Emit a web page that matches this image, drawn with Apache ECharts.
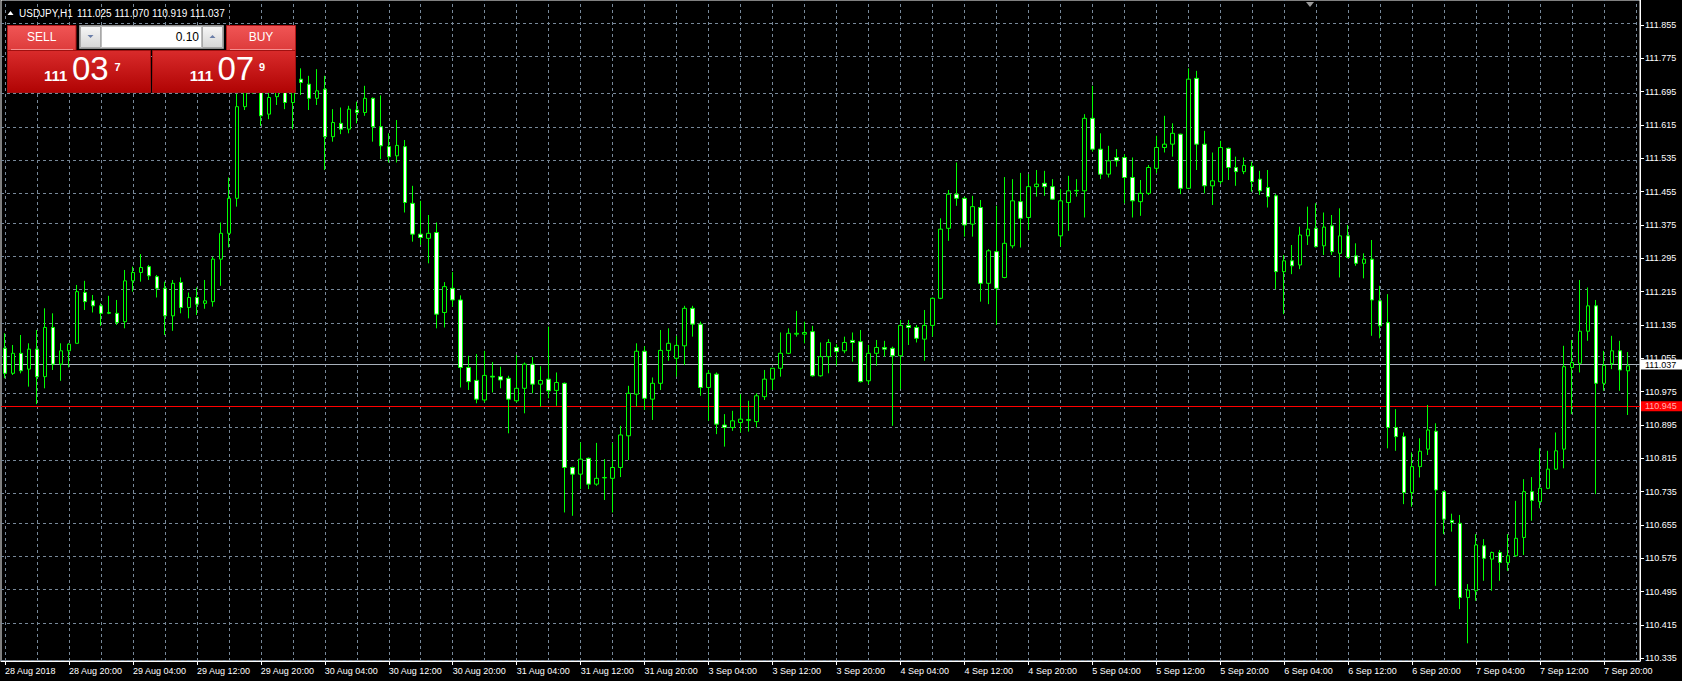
<!DOCTYPE html>
<html><head><meta charset="utf-8">
<script src="https://cdn.jsdelivr.net/npm/echarts@6/dist/echarts.min.js"></script>
<style>html,body{margin:0;padding:0;background:#000;overflow:hidden}#c{width:1682px;height:681px}</style>
</head><body><div id="c"></div><script>
// ---------- DATA ----------
const symbolTitle = 'USDJPY,H1';
const titleValues = '111.025 111.070 110.919 111.037';
const xTickLabels = ['28 Aug 2018','28 Aug 20:00','29 Aug 04:00','29 Aug 12:00','29 Aug 20:00','30 Aug 04:00','30 Aug 12:00','30 Aug 20:00','31 Aug 04:00','31 Aug 12:00','31 Aug 20:00','3 Sep 04:00','3 Sep 12:00','3 Sep 20:00','4 Sep 04:00','4 Sep 12:00','4 Sep 20:00','5 Sep 04:00','5 Sep 12:00','5 Sep 20:00','6 Sep 04:00','6 Sep 12:00','6 Sep 20:00','7 Sep 04:00','7 Sep 12:00','7 Sep 20:00'];
const yTicks = [110.335,110.415,110.495,110.575,110.655,110.735,110.815,110.895,110.975,111.055,111.135,111.215,111.295,111.375,111.455,111.535,111.615,111.695,111.775,111.855];
const bidPrice = 111.037;
const redLevel = 110.945;
const sellPrice = ['111','03','7'];
const buyPrice = ['111','07','9'];
const lotSize = '0.10';

const opens = [
111.079,111.019,111.067,111.029,111.077,111.011,111.129,111.041,111.073,111.091,
111.213,111.193,111.181,111.163,111.163,111.143,111.241,111.261,111.275,111.251,
111.223,111.157,111.237,111.177,111.201,111.187,111.191,111.293,111.355,111.439,
111.659,111.700,111.710,111.641,111.683,111.700,111.669,111.725,111.713,111.679,
111.701,111.587,111.619,111.605,111.651,111.645,111.679,111.611,111.563,111.541,
111.563,111.427,111.353,111.343,111.357,111.165,111.223,111.195,111.033,111.002,
110.955,111.012,111.011,111.007,110.953,110.983,111.041,110.993,111.005,110.978,
110.995,110.793,110.777,110.815,110.753,110.768,110.767,110.793,110.869,110.969,
111.072,110.957,110.995,111.074,111.055,111.085,111.175,111.137,110.985,111.017,
110.895,110.889,110.901,110.906,110.903,110.963,111.005,111.031,111.067,111.113,
111.113,111.119,111.013,111.059,111.081,111.073,111.098,111.095,111.001,111.067,
111.081,111.079,111.061,111.134,111.129,111.101,111.134,111.199,111.367,111.449,
111.439,111.377,111.417,111.235,111.311,111.249,111.325,111.431,111.393,111.467,
111.475,111.467,111.349,111.429,111.457,111.457,111.631,111.557,111.497,111.537,
111.537,111.489,111.431,111.451,111.511,111.561,111.569,111.593,111.463,111.727,
111.569,111.469,111.479,111.559,111.513,111.503,111.516,111.485,111.465,111.445,
111.263,111.289,111.279,111.349,111.367,111.325,111.373,111.307,111.349,111.301,
111.283,111.293,111.193,111.141,110.889,110.867,110.733,110.795,110.837,110.880,
110.735,110.666,110.659,110.481,110.497,110.605,110.573,110.589,110.565,110.581,
110.625,110.735,110.711,110.743,110.789,110.837,111.033,111.043,111.120,111.181,
110.995,111.042,111.073,111.025];
const highs = [
111.115,111.087,111.111,111.091,111.123,111.175,111.163,111.091,111.091,111.231,
111.241,111.207,111.187,111.205,111.195,111.267,111.275,111.305,111.279,111.255,
111.239,111.243,111.249,111.213,111.225,111.243,111.299,111.381,111.489,111.690,
111.730,111.740,111.730,111.700,111.720,111.720,111.720,111.751,111.733,111.749,
111.733,111.653,111.657,111.661,111.671,111.709,111.681,111.686,111.595,111.627,
111.579,111.469,111.433,111.399,111.381,111.238,111.262,111.206,111.061,111.065,
111.073,111.046,111.035,111.013,111.063,111.045,111.058,111.036,111.131,111.021,
110.997,110.795,110.853,110.817,110.852,110.813,110.852,110.893,110.989,111.091,
111.084,111.009,111.123,111.127,111.109,111.181,111.181,111.143,111.027,111.021,
110.921,110.929,110.969,110.953,110.971,111.027,111.031,111.117,111.127,111.169,
111.143,111.133,111.093,111.101,111.089,111.107,111.117,111.123,111.087,111.099,
111.097,111.083,111.147,111.147,111.135,111.171,111.201,111.391,111.459,111.525,
111.443,111.445,111.435,111.317,111.421,111.490,111.485,111.500,111.497,111.507,
111.505,111.485,111.461,111.493,111.485,111.641,111.709,111.595,111.565,111.557,
111.545,111.537,111.483,111.519,111.589,111.637,111.619,111.594,111.751,111.745,
111.601,111.549,111.577,111.561,111.539,111.537,111.527,111.505,111.507,111.449,
111.303,111.327,111.371,111.419,111.427,111.405,111.399,111.415,111.375,111.331,
111.307,111.339,111.229,111.209,110.933,110.877,110.829,110.863,110.943,110.899,
110.737,110.682,110.679,110.513,110.633,110.621,110.591,110.595,110.633,110.713,
110.765,110.770,110.839,110.833,110.877,111.085,111.099,111.243,111.225,111.195,
111.073,111.109,111.097,111.070];
const lows = [
111.007,111.015,111.019,110.987,110.945,110.983,111.027,111.001,111.033,111.091,
111.171,111.165,111.133,111.161,111.135,111.127,111.215,111.239,111.243,111.201,
111.111,111.121,111.163,111.151,111.159,111.174,111.179,111.229,111.321,111.419,
111.651,111.690,111.613,111.629,111.663,111.653,111.605,111.687,111.651,111.663,
111.507,111.575,111.593,111.595,111.619,111.637,111.575,111.533,111.525,111.525,
111.405,111.335,111.327,111.283,111.127,111.129,111.179,110.985,110.979,110.947,
110.949,110.973,110.983,110.875,110.949,110.923,110.971,110.939,110.959,110.941,
110.685,110.677,110.741,110.741,110.749,110.715,110.685,110.770,110.811,110.939,
110.931,110.907,110.979,111.049,111.011,111.039,111.107,110.965,110.905,110.873,
110.843,110.881,110.877,110.879,110.889,110.955,110.979,111.011,111.065,111.107,
111.091,111.011,111.011,111.019,111.037,111.067,111.047,110.997,110.993,111.037,
111.059,110.893,110.981,111.087,111.093,111.049,111.107,111.197,111.337,111.421,
111.347,111.347,111.191,111.185,111.135,111.247,111.319,111.321,111.363,111.443,
111.445,111.435,111.323,111.361,111.443,111.393,111.551,111.485,111.489,111.515,
111.427,111.393,111.397,111.447,111.499,111.549,111.539,111.449,111.461,111.507,
111.451,111.423,111.473,111.483,111.469,111.497,111.455,111.447,111.417,111.221,
111.161,111.257,111.269,111.327,111.321,111.303,111.303,111.249,111.295,111.277,
111.247,111.109,111.103,110.839,110.833,110.705,110.699,110.769,110.823,110.509,
110.633,110.639,110.453,110.371,110.473,110.521,110.497,110.521,110.545,110.579,
110.583,110.665,110.695,110.741,110.787,110.791,110.921,111.021,111.097,110.729,
110.977,111.029,110.977,110.919];
const closes = [
111.019,111.067,111.025,111.077,111.011,111.129,111.041,111.073,111.089,111.215,
111.191,111.181,111.163,111.165,111.141,111.241,111.261,111.273,111.253,111.223,
111.157,111.235,111.177,111.201,111.185,111.193,111.293,111.355,111.439,111.659,
111.700,111.720,111.637,111.681,111.695,111.669,111.700,111.717,111.679,111.697,
111.587,111.621,111.605,111.653,111.645,111.679,111.611,111.565,111.539,111.566,
111.429,111.353,111.345,111.355,111.161,111.227,111.195,111.033,110.999,110.957,
111.014,111.010,111.003,110.957,110.983,111.041,110.993,111.002,110.977,110.997,
110.793,110.777,110.813,110.753,110.767,110.769,110.793,110.871,110.971,111.072,
110.959,110.995,111.074,111.091,111.086,111.175,111.137,110.985,111.019,110.897,
110.889,110.905,110.909,110.908,110.965,111.005,111.031,111.067,111.115,111.115,
111.117,111.013,111.059,111.093,111.071,111.093,111.093,110.999,111.067,111.081,
111.077,111.061,111.134,111.129,111.103,111.134,111.199,111.365,111.449,111.439,
111.375,111.419,111.235,111.313,111.223,111.331,111.433,111.391,111.467,111.473,
111.467,111.437,111.433,111.457,111.458,111.631,111.557,111.497,111.529,111.529,
111.489,111.433,111.451,111.513,111.561,111.569,111.595,111.463,111.725,111.569,
111.469,111.481,111.561,111.513,111.503,111.518,111.479,111.457,111.443,111.263,
111.289,111.277,111.351,111.365,111.323,111.370,111.311,111.349,111.297,111.283,
111.293,111.195,111.133,110.889,110.867,110.733,110.795,110.832,110.883,110.739,
110.669,110.661,110.481,110.499,110.607,110.575,110.589,110.565,110.581,110.623,
110.735,110.714,110.743,110.789,110.833,111.035,111.045,111.120,111.181,110.995,
111.038,111.073,111.027,111.037];

// ---------- BUILD ----------
const FONT = 'Liberation Sans';
const N = opens.length;
function pad(n){return (n<10?'0':'')+n;}
const categories = [];
let t = Date.UTC(2018, 7, 28, 12);
while (categories.length < N + 1) {
  const d = new Date(t);
  const wd = d.getUTCDay();
  if (wd !== 0 && wd !== 6) categories.push(d.getUTCFullYear()+'.'+pad(d.getUTCMonth()+1)+'.'+pad(d.getUTCDate())+' '+pad(d.getUTCHours())+':00');
  t += 3600000;
}
const candleData = opens.map((o, i) => [o, closes[i], lows[i], highs[i]]);

const gridLineData = [];
for (let i = 0; i < categories.length; i += 4) gridLineData.push({xAxis: i});
yTicks.forEach(v => gridLineData.push({yAxis: v}));
const gridStyle = {color: '#778899', type: [3, 3], width: 1};

const chart = echarts.init(document.getElementById('c'), null, {renderer: 'svg'});
const grad = (a, b) => new echarts.graphic.LinearGradient(0, 0, 0, 1, [{offset: 0, color: a}, {offset: 1, color: b}]);
const G = 100;
const graphic = [
  {type:'polygon', z:G, shape:{points:[[7.5,15],[13.5,15],[10.5,11]]}, style:{fill:'#fff'}},
  {type:'text', z:G, x:19, y:13, style:{text:symbolTitle, fill:'#fff', font:'10px '+FONT, verticalAlign:'middle'}},
  {type:'text', z:G, x:77, y:13, style:{text:titleValues, fill:'#fff', font:'10px '+FONT, verticalAlign:'middle'}},
  {type:'polygon', z:G, shape:{points:[[1306,2],[1314,2],[1310,7]]}, style:{fill:'#9a9a9a'}},
  // SELL
  {type:'rect', z:G, shape:{x:7.5,y:25.5,width:68.5,height:25}, style:{fill:grad('#f05555','#dd3b3b'), stroke:'#b01818', lineWidth:1}},
  {type:'rect', z:G, shape:{x:7.5,y:50.5,width:143,height:42}, style:{fill:grad('#d92b2b','#b00303'), stroke:'#a01010', lineWidth:1}},
  {type:'line', z:G, shape:{x1:11,y1:49.5,x2:73,y2:49.5}, style:{stroke:'#f59090', lineWidth:1}},
  {type:'text', z:G, x:41.7, y:37, style:{text:'SELL', fill:'#fff', font:'12px '+FONT, align:'center', verticalAlign:'middle'}},
  {type:'text', z:G, x:44, y:75.5, style:{text:sellPrice[0], fill:'#fff', font:'bold 15px '+FONT, verticalAlign:'middle'}},
  {type:'text', z:G, x:72, y:68.5, style:{text:sellPrice[1], fill:'#fff', font:'33px '+FONT, verticalAlign:'middle'}},
  {type:'text', z:G, x:114.5, y:66.5, style:{text:sellPrice[2], fill:'#fff', font:'bold 11px '+FONT, verticalAlign:'middle'}},
  // BUY
  {type:'rect', z:G, shape:{x:226.5,y:25.5,width:69,height:25}, style:{fill:grad('#f05555','#dd3b3b'), stroke:'#b01818', lineWidth:1}},
  {type:'rect', z:G, shape:{x:152.5,y:50.5,width:143,height:42}, style:{fill:grad('#d92b2b','#b00303'), stroke:'#a01010', lineWidth:1}},
  {type:'line', z:G, shape:{x1:230,y1:49.5,x2:292,y2:49.5}, style:{stroke:'#f59090', lineWidth:1}},
  {type:'text', z:G, x:261, y:37, style:{text:'BUY', fill:'#fff', font:'12px '+FONT, align:'center', verticalAlign:'middle'}},
  {type:'text', z:G, x:189.7, y:75.5, style:{text:buyPrice[0], fill:'#fff', font:'bold 15px '+FONT, verticalAlign:'middle'}},
  {type:'text', z:G, x:217.5, y:68.5, style:{text:buyPrice[1], fill:'#fff', font:'33px '+FONT, verticalAlign:'middle'}},
  {type:'text', z:G, x:259, y:66.5, style:{text:buyPrice[2], fill:'#fff', font:'bold 11px '+FONT, verticalAlign:'middle'}},
  // lot box
  {type:'rect', z:G, shape:{x:79.5,y:25.5,width:144,height:23}, style:{fill:'#cfcfcf', stroke:'#8f8f8f', lineWidth:1}},
  {type:'rect', z:G, shape:{x:80.5,y:26.5,width:20,height:21}, style:{fill:grad('#f6f6f6','#d6d6d6'), stroke:'#a8a8a8', lineWidth:1}},
  {type:'rect', z:G, shape:{x:101.5,y:26.5,width:100,height:21}, style:{fill:'#fff', stroke:'#bdbdbd', lineWidth:1}},
  {type:'rect', z:G, shape:{x:202.5,y:26.5,width:20,height:21}, style:{fill:grad('#f6f6f6','#d6d6d6'), stroke:'#a8a8a8', lineWidth:1}},
  {type:'polygon', z:G, shape:{points:[[87.5,35],[93.5,35],[90.5,38]]}, style:{fill:'#6a7ea8'}},
  {type:'polygon', z:G, shape:{points:[[209.5,38],[215.5,38],[212.5,35]]}, style:{fill:'#6a7ea8'}},
  {type:'text', z:G, x:199, y:36.5, style:{text:lotSize, fill:'#000', font:'12px '+FONT, align:'right', verticalAlign:'middle'}}
];

chart.setOption({
  animation: false,
  backgroundColor: '#000',
  grid: {left: 1, right: 42, top: 0, bottom: 20, show: true, borderColor: '#fff', borderWidth: 1, backgroundColor: '#000'},
  xAxis: {
    type: 'category', data: categories, boundaryGap: true,
    axisLine: {show: true, lineStyle: {color: '#fff'}},
    axisTick: {show: true, alignWithLabel: true, interval: i => i % 8 === 0, length: 4, lineStyle: {color: '#fff'}},
    axisLabel: {interval: i => i % 8 === 0, formatter: (v, i) => xTickLabels[i / 8] || '', color: '#fff', fontFamily: FONT, fontSize: 9, align: 'left', margin: 5},
    splitLine: {show: false}
  },
  yAxis: {
    type: 'value', position: 'right', min: 110.3285, max: 111.915, scale: true,
    axisLine: {show: true, lineStyle: {color: '#fff'}},
    axisTick: {show: true, length: 4, customValues: yTicks, lineStyle: {color: '#fff'}},
    axisLabel: {customValues: yTicks, formatter: v => v.toFixed(3), color: '#fff', fontFamily: FONT, fontSize: 9, margin: 5},
    splitLine: {show: false}
  },
  series: [{
    type: 'candlestick', name: symbolTitle, data: candleData, z: 3, barWidth: 4,
    itemStyle: {color: '#000', color0: '#fff', borderColor: '#00ff00', borderColor0: '#00ff00', borderColorDoji: '#00ff00', borderWidth: 1},
    markLine: {
      silent: true, z: 1, symbol: ['none', 'none'], animation: false,
      label: {show: false}, lineStyle: gridStyle,
      data: gridLineData.concat([
        {yAxis: bidPrice, lineStyle: {color: '#a7b0ba', type: 'solid', width: 1},
         label: {show: true, position: 'end', formatter: bidPrice.toFixed(3), backgroundColor: '#fff', color: '#000', fontFamily: FONT, fontSize: 9, padding: [1, 8, 0, 4], distance: 1}},
        {yAxis: redLevel, lineStyle: {color: '#ff0000', type: 'solid', width: 1},
         label: {show: true, position: 'end', formatter: redLevel.toFixed(3), backgroundColor: '#ff0000', color: '#ffb0b0', fontFamily: FONT, fontSize: 9, padding: [1, 8, 0, 4], distance: 1}}
      ])
    }
  }],
  graphic: graphic
});
</script></body></html>
